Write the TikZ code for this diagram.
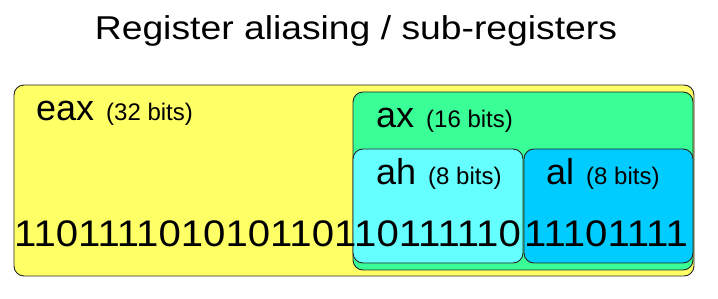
\documentclass[tikz,border=0pt]{standalone}
\usepackage{fontspec}
\setmainfont{Liberation Sans}
\definecolor{regyellow}{HTML}{FFFF66}
\definecolor{reggreen}{HTML}{3AFF96}
\definecolor{regcyan}{HTML}{66FFFF}
\definecolor{regblue}{HTML}{00CCFF}
\newcommand{\widen}[2]{\scalebox{#1}[1]{#2}}
\begin{document}
\begin{tikzpicture}[x=1pt,y=-1pt]
\tikzset{
  reg/.style={draw=black!85, line width=0.9pt, rounded corners=10pt, anchor=north west, inner sep=0pt, outer sep=0pt},
  big/.style={anchor=base west, inner sep=0pt, font=\fontsize{36}{40}\selectfont},
  small/.style={anchor=base west, inner sep=0pt, font=\fontsize{24}{27}\selectfont},
  bits/.style={anchor=base west, inner sep=0pt, font=\fontsize{37}{40}\selectfont},
  title/.style={anchor=base, inner sep=0pt, font=\fontsize{33}{38}\selectfont}
}
\fill[white] (0,0) rectangle (718,299);
\useasboundingbox (0,0) rectangle (718,299);
\node[title] (t) at (356,40) {\widen{1.13}{Register aliasing / sub-registers}};
\node[reg, fill=regyellow, minimum width=680pt, minimum height=191pt] (eax) at (14,85) {};
\node[reg, fill=reggreen, minimum width=340pt, minimum height=178pt] (ax) at (353,92) {};
\node[reg, fill=regcyan, minimum width=170pt, minimum height=114pt] (ah) at (353,149) {};
\node[reg, fill=regblue, minimum width=169pt, minimum height=114pt] (al) at (524,149) {};
\node[big] (eaxn) at (36,121) {eax};
\node[small] (eaxb) at (106,121) {(32 bits)};
\node[big] (axn) at (376,128) {ax};
\node[small] (axb) at (426,128) {(16 bits)};
\node[big] (ahn) at (376,185) {ah};
\node[small] (ahb) at (428,185) {(8 bits)};
\node[big] (aln) at (546,185) {al};
\node[small] (alb) at (586,185) {(8 bits)};
\node[bits] (eaxv) at (14,247) {\widen{1.085}{1101111010101101}};
\node[bits] (ahv) at (354,247) {\widen{1.085}{10111110}};
\node[bits] (alv) at (524,247) {\widen{1.085}{11101111}};
\end{tikzpicture}
\end{document}
